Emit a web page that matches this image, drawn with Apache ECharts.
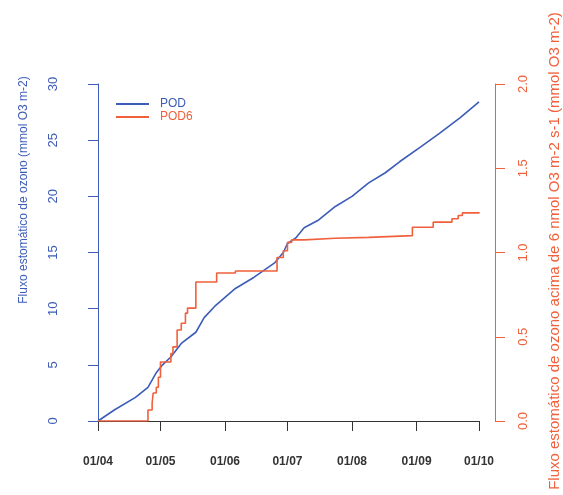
<!DOCTYPE html>
<html>
<head>
<meta charset="utf-8">
<script src="https://cdn.jsdelivr.net/npm/echarts@6/dist/echarts.min.js"></script>
<style>
  html, body { margin: 0; padding: 0; background: #fff; }
  #chart { width: 563px; height: 495px; }
</style>
</head>
<body>
<div id="chart"></div>
<script>
// dias desde 01/04
var monthDays = [0, 30, 61, 91, 122, 153, 183];
var monthLabels = ["01/04", "01/05", "01/06", "01/07", "01/08", "01/09", "01/10"];

// POD (mmol O3 m-2), eixo esquerdo
var podDays = [0, 8, 18, 24, 28, 31, 35, 40, 47, 51, 56, 66, 75, 85, 89, 91, 95, 99, 106, 114, 122, 130, 138, 145, 155, 164, 174, 183];
var podVals = [0, 1.0, 2.1, 3.0, 4.3, 5.0, 5.7, 6.9, 7.9, 9.2, 10.2, 11.8, 12.8, 14.1, 15.0, 15.8, 16.3, 17.2, 17.9, 19.1, 20.0, 21.2, 22.1, 23.1, 24.4, 25.6, 27.0, 28.4];

// POD6, eixo direito (degraus)
var pod6Days = [0, 24, 26, 26.5, 28, 29, 30, 35, 36, 38, 40, 42, 43, 47, 57, 66, 86, 89, 91, 93, 99, 114, 130, 151, 161, 170, 173, 175, 183];
var pod6Vals = [0, 0.065, 0.107, 0.166, 0.20, 0.26, 0.35, 0.40, 0.44, 0.54, 0.58, 0.64, 0.67, 0.825, 0.878, 0.89, 0.97, 1.01, 1.06, 1.075, 1.085, 1.09, 1.10, 1.15, 1.18, 1.20, 1.22, 1.235, 1.24];

var blue = "#3d5cb8";
var red = "#f0603c";
var font = "Liberation Sans, Arial, sans-serif";

var chart = echarts.init(document.getElementById("chart"));

var option = {
  animation: false,
  textStyle: { fontFamily: font },
  grid: { left: 98, right: 84, top: 84, bottom: 74 },
  legend: {
    orient: "vertical",
    left: 111,
    top: 93,
    icon: "rect",
    itemWidth: 33,
    itemHeight: 2,
    itemGap: 1,
    textStyle: { fontSize: 12, fontFamily: font, lineHeight: 12, padding: [0, 0, 0, 6] },
    data: [
      { name: "POD", textStyle: { color: blue } },
      { name: "POD6", textStyle: { color: red } }
    ]
  },
  xAxis: {
    type: "value",
    min: 0,
    max: 183,
    offset: 12,
    splitLine: { show: false },
    axisLine: { lineStyle: { color: "#333", width: 1 } },
    axisTick: { length: 10, customValues: monthDays, lineStyle: { color: "#333" } },
    axisLabel: {
      customValues: monthDays,
      margin: 23,
      fontSize: 12,
      fontWeight: "bold",
      color: "#333",
      formatter: function (v) {
        return monthLabels[monthDays.indexOf(v)];
      }
    }
  },
  yAxis: [
    {
      type: "value",
      position: "left",
      min: 0,
      max: 30,
      interval: 5,
      offset: 16,
      splitLine: { show: false },
      axisLine: { show: true, lineStyle: { color: blue } },
      axisTick: { show: true, length: 10, lineStyle: { color: blue } },
      axisLabel: { rotate: 90, margin: 22, fontSize: 13, color: blue }
    },
    {
      type: "value",
      position: "right",
      min: 0,
      max: 2,
      interval: 0.5,
      offset: 16,
      splitLine: { show: false },
      axisLine: { show: true, lineStyle: { color: red } },
      axisTick: { show: true, length: 10, lineStyle: { color: red } },
      axisLabel: {
        rotate: 90,
        margin: 22,
        fontSize: 13,
        color: red,
        formatter: function (v) { return v.toFixed(1); }
      }
    }
  ],
  graphic: [
    {
      type: "text",
      x: 24,
      y: 190,
      rotation: Math.PI / 2,
      style: {
        text: "Fluxo estomático de ozono (mmol O3 m-2)",
        fill: blue,
        fontSize: 12,
        fontFamily: font,
        align: "center",
        verticalAlign: "middle"
      }
    },
    {
      type: "text",
      x: 555,
      y: 251,
      rotation: Math.PI / 2,
      style: {
        text: "Fluxo estomático de ozono acima de 6 nmol O3 m-2 s-1 (mmol O3 m-2)",
        fill: red,
        fontSize: 15,
        fontFamily: font,
        align: "center",
        verticalAlign: "middle"
      }
    }
  ],
  series: [
    {
      name: "POD",
      type: "line",
      yAxisIndex: 0,
      symbol: "none",
      color: blue,
      lineStyle: { width: 1.6 },
      data: podDays.map(function (d, i) { return [d, podVals[i]]; })
    },
    {
      name: "POD6",
      type: "line",
      yAxisIndex: 1,
      step: "end",
      symbol: "none",
      color: red,
      lineStyle: { width: 1.6 },
      data: pod6Days.map(function (d, i) { return [d, pod6Vals[i]]; })
    }
  ]
};

chart.setOption(option);
</script>
</body>
</html>
